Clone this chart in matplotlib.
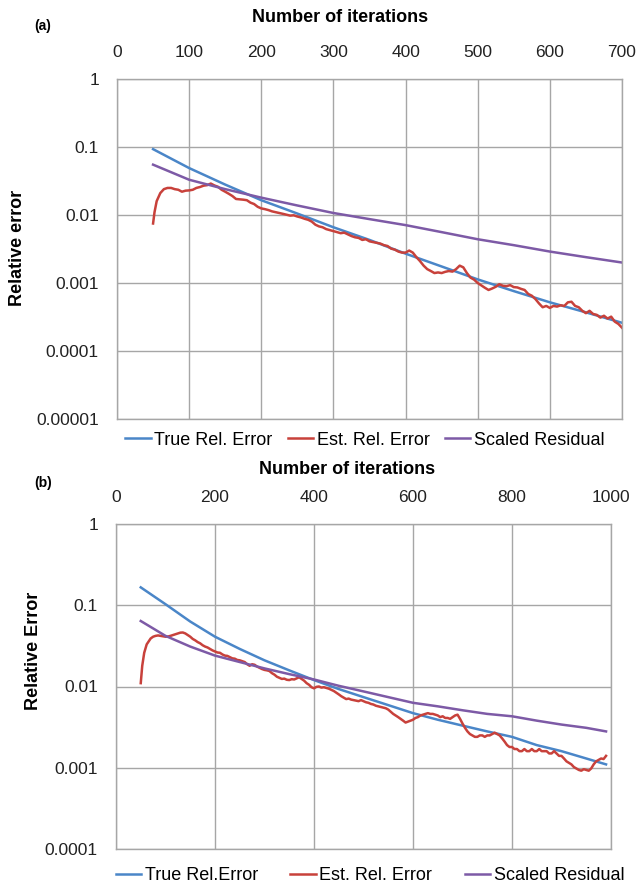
import matplotlib.pyplot as plt
import numpy as np

plt.rcParams['font.family'] = ['Liberation Sans', 'DejaVu Sans']

# ---- panel (a) data ----
a_smooth_x = [50, 100, 150, 200, 250, 300, 350, 400, 450, 500, 550, 600, 650, 700]
a_true = [0.093, 0.049, 0.028, 0.0165, 0.0105, 0.0066, 0.0043, 0.0027, 0.00175,
          0.00113, 0.00076, 0.00052, 0.00037, 0.00026]
a_resid = [0.055, 0.033, 0.024, 0.018, 0.0138, 0.0107, 0.0087, 0.0071, 0.0056,
           0.0044, 0.0036, 0.0029, 0.0024, 0.0020]
a_est_x = [50, 52, 55, 60, 65, 70, 75] + list(range(80, 705, 5))
a_est = [0.0075, 0.011, 0.016, 0.021, 0.024, 0.025, 0.025,
         # 80 - 195
         0.024, 0.0235, 0.022, 0.0228, 0.023, 0.0235, 0.025, 0.0258, 0.027, 0.0275,
         0.029, 0.0272, 0.026, 0.0235, 0.022, 0.0205, 0.019, 0.0172, 0.017, 0.0168,
         0.0165, 0.0152, 0.0145, 0.0132,
         # 200 - 295
         0.0125, 0.0122, 0.0118, 0.0113, 0.0110, 0.0107, 0.0104, 0.0101, 0.0098,
         0.0099, 0.0095, 0.0092, 0.0088, 0.0085, 0.0080, 0.0072, 0.0068, 0.0066,
         0.0062, 0.0060,
         # 300 - 395
         0.0058, 0.0056, 0.0054, 0.0055, 0.0052, 0.0049, 0.0047, 0.0046, 0.0043,
         0.0044, 0.0041, 0.0040, 0.0039, 0.0038, 0.0036, 0.0035, 0.0032, 0.0031,
         0.0029, 0.0028,
         # 400 - 495
         0.0028, 0.0030, 0.0028, 0.0024, 0.0021, 0.0018, 0.0016, 0.0015, 0.0014,
         0.00143, 0.0014, 0.00146, 0.0015, 0.00147, 0.0016, 0.0018, 0.0017, 0.0014,
         0.0012, 0.00112,
         # 500 - 595
         0.0010, 0.00092, 0.00085, 0.00079, 0.00083, 0.00088, 0.00096, 0.00091,
         0.00090, 0.00093, 0.00087, 0.00086, 0.00082, 0.00079, 0.00069, 0.00065,
         0.00058, 0.00050, 0.00044, 0.00046,
         # 600 - 700
         0.00043, 0.00046, 0.00045, 0.00047, 0.00046, 0.00052, 0.00053, 0.00046,
         0.00044, 0.00039, 0.00036, 0.00039, 0.00035, 0.00034, 0.00031, 0.00033,
         0.00030, 0.00032, 0.00027, 0.00025, 0.00022]

# ---- panel (b) data ----
b_smooth_x = [50, 100, 150, 200, 250, 300, 350, 400, 450, 500, 550, 600, 650,
              700, 750, 800, 850, 900, 950, 990]
b_true = [0.166, 0.103, 0.063, 0.041, 0.029, 0.021, 0.0158, 0.0120, 0.0093,
          0.0074, 0.0059, 0.0047, 0.0039, 0.0033, 0.0028, 0.0024, 0.0019,
          0.0016, 0.0013, 0.0011]
b_resid = [0.064, 0.042, 0.031, 0.024, 0.020, 0.0167, 0.0142, 0.0122, 0.0102,
           0.0087, 0.0074, 0.0063, 0.0057, 0.0051, 0.0046, 0.0043, 0.0038,
           0.0034, 0.0031, 0.0028]
b_est_x = [50, 53, 57, 62] + list(range(70, 995, 5))
b_est = [0.011, 0.018, 0.026, 0.033,
         # 70 - 195
         0.039, 0.041, 0.042, 0.0425, 0.042, 0.0415, 0.041, 0.0412, 0.042, 0.043,
         0.044, 0.0452, 0.046, 0.0462, 0.045, 0.043, 0.041, 0.0385, 0.037, 0.0352,
         0.034, 0.0322,
         0.031, 0.0302, 0.029, 0.0278,
         # 200 - 295
         0.027, 0.0262, 0.026, 0.0248, 0.024, 0.0238, 0.023, 0.0222, 0.022, 0.0212,
         0.021, 0.0205, 0.020, 0.0188, 0.018, 0.0188, 0.0185, 0.0176, 0.017, 0.0164,
         # 300 - 395
         0.016, 0.0158, 0.0155, 0.0146, 0.014, 0.0132, 0.0128, 0.0124, 0.0125,
         0.0121, 0.012, 0.0123, 0.0122, 0.0126, 0.013, 0.0124, 0.0118, 0.0110,
         0.0105, 0.0098,
         # 400 - 495
         0.0095, 0.0099, 0.0100, 0.0097, 0.0098, 0.0096, 0.0094, 0.0091, 0.0088,
         0.0084, 0.0080, 0.0076, 0.0073, 0.0070, 0.0071, 0.0069, 0.0068, 0.0067,
         0.0066, 0.0068,
         # 500 - 595
         0.0066, 0.0064, 0.0063, 0.0061, 0.0060, 0.0058, 0.0057, 0.0056, 0.0055,
         0.0054, 0.0052, 0.0049, 0.0046, 0.0044, 0.0042, 0.0040, 0.0038, 0.0036,
         0.0037, 0.0038,
         # 600 - 695
         0.0039, 0.0041, 0.0042, 0.0044, 0.0045, 0.0046, 0.0047, 0.0046, 0.0046,
         0.0045, 0.0044, 0.0042, 0.0043, 0.0041, 0.0041, 0.0040, 0.0042, 0.0044,
         0.0045, 0.0040,
         # 700 - 795
         0.0035, 0.0031, 0.0028, 0.0026, 0.0025, 0.0024, 0.0024, 0.0025, 0.0025,
         0.0024, 0.0025, 0.0025, 0.0026, 0.0027, 0.0026, 0.0025, 0.0023, 0.0021,
         0.0019, 0.0018,
         # 800 - 895
         0.0018, 0.0017, 0.0017, 0.0016, 0.0016, 0.0017, 0.0016, 0.0016, 0.0017,
         0.0016, 0.0016, 0.0017, 0.0016, 0.0016, 0.0016, 0.0015, 0.0015, 0.0016,
         0.0015, 0.0014,
         # 900 - 990
         0.0014, 0.0013, 0.0012, 0.00115, 0.0011, 0.00102, 0.00098, 0.00094,
         0.00092, 0.00096, 0.00094, 0.00092, 0.00098, 0.0011, 0.0012, 0.00125,
         0.0013, 0.00128, 0.0014]

a_xticks = [0, 100, 200, 300, 400, 500, 600, 700]
a_yticks = [1, 0.1, 0.01, 0.001, 0.0001, 0.00001]
a_ylabels = ['1', '0.1', '0.01', '0.001', '0.0001', '0.00001']
b_xticks = [0, 200, 400, 600, 800, 1000]
b_yticks = [1, 0.1, 0.01, 0.001, 0.0001]
b_ylabels = ['1', '0.1', '0.01', '0.001', '0.0001']

c_true = '#4a86c8'
c_est = '#c8413b'
c_res = '#7d5aa6'
grid_c = '#a6a6a6'

fig = plt.figure(figsize=(6.4, 8.85), dpi=100)
ax_a = fig.add_axes([117 / 640, 1 - 419 / 885, 505 / 640, 340 / 885])
ax_b = fig.add_axes([116 / 640, 1 - 849 / 885, 495 / 640, 325 / 885])


def style(ax, xticks, yticks, ylabels, xmax, ymin):
    ax.set_yscale('log')
    ax.set_xlim(0, xmax)
    ax.set_ylim(ymin, 1)
    ax.xaxis.tick_top()
    ax.set_xticks(xticks)
    ax.set_xticklabels([str(t) for t in xticks])
    ax.set_yticks(yticks)
    ax.set_yticklabels(ylabels)
    ax.minorticks_off()
    ax.tick_params(length=0, labelsize=12.5, colors='#222222')
    ax.tick_params(axis='x', pad=14)
    ax.tick_params(axis='y', pad=13)
    ax.grid(True, color=grid_c, linewidth=1)
    for s in ax.spines.values():
        s.set_color(grid_c)
        s.set_linewidth(1)


style(ax_a, a_xticks, a_yticks, a_ylabels, 700, 1e-5)
style(ax_b, b_xticks, b_yticks, b_ylabels, 1000, 1e-4)

lw = 1.8
ax_a.plot(a_smooth_x, a_true, color=c_true, lw=lw, label='True Rel. Error')
ax_a.plot(a_est_x, a_est, color=c_est, lw=lw, label='Est. Rel. Error')
ax_a.plot(a_smooth_x, a_resid, color=c_res, lw=lw, label='Scaled Residual')

ax_b.plot(b_smooth_x, b_true, color=c_true, lw=lw, label='True Rel.Error')
ax_b.plot(b_est_x, b_est, color=c_est, lw=lw, label='Est. Rel. Error')
ax_b.plot(b_smooth_x, b_resid, color=c_res, lw=lw, label='Scaled Residual')

for ax, lx, ly, cs in [(ax_a, 365, 440, 0.85), (ax_b, 370, 876, 1.8)]:
    ax.legend(loc='center', bbox_to_anchor=(lx / 640, 1 - ly / 885),
              bbox_transform=fig.transFigure, ncol=3, frameon=False,
              fontsize=13, handlelength=1.4, handletextpad=0.2, columnspacing=cs,
              borderpad=0, borderaxespad=0)

fig.text(340 / 640, 1 - 17 / 885, 'Number of iterations', ha='center', va='center',
         fontsize=13, fontweight='bold')
fig.text(347 / 640, 1 - 469 / 885, 'Number of iterations', ha='center', va='center',
         fontsize=13, fontweight='bold')
fig.text(43 / 640, 1 - 26 / 885, '(a)', ha='center', va='center', fontsize=10,
         fontweight='bold')
fig.text(43 / 640, 1 - 483 / 885, '(b)', ha='center', va='center', fontsize=10,
         fontweight='bold')
fig.text(18 / 640, 1 - 248 / 885, 'Relative error', ha='center', va='center',
         rotation=90, fontsize=13, fontweight='bold')
fig.text(33 / 640, 1 - 651 / 885, 'Relative Error', ha='center', va='center',
         rotation=90, fontsize=13, fontweight='bold')

fig.savefig('out.png', dpi=100)
